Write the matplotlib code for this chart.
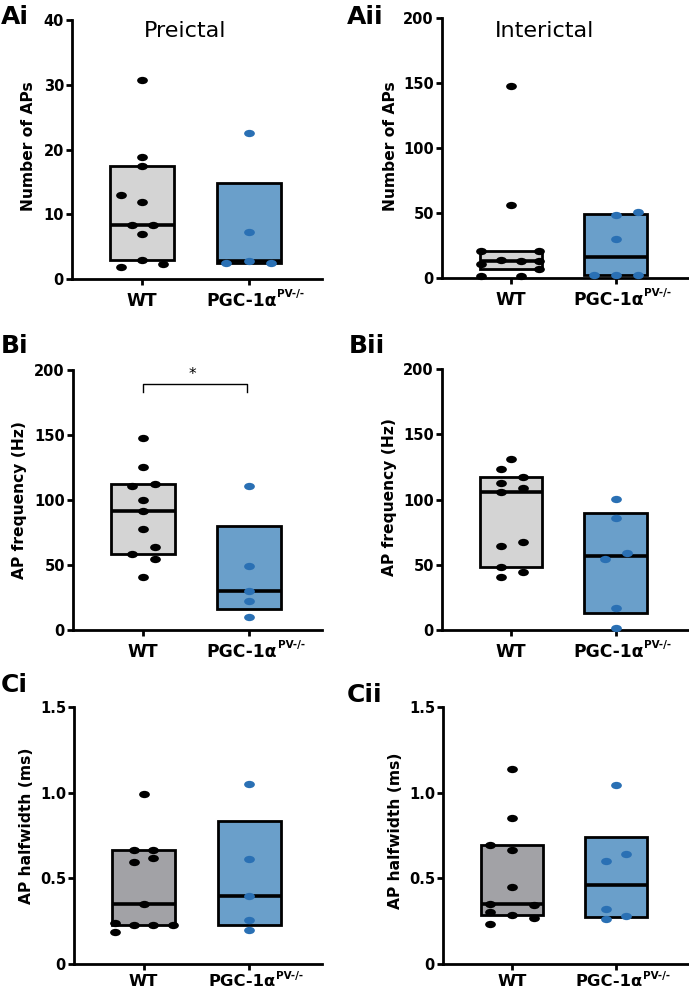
import numpy as np
import matplotlib
matplotlib.use("Agg")
import matplotlib.pyplot as plt
import matplotlib.transforms as mtrans
from matplotlib.path import Path

plt.rcParams['font.family'] = ['DejaVu Sans']

# ---------------- data ----------------
groups = ["WT", "PGC-1α"]
group_sup = "PV-/-"

# Ai  Preictal, Number of APs
ai_wt = [30.7, 18.9, 17.5, 13.0, 11.9, 8.4, 8.4, 6.9, 2.9, 1.9, 2.3]
ai_wt_spread = [0, 0, 0, -0.2, 0, -0.1, 0.1, 0, 0, -0.2, 0.2]
ai_ko = [22.5, 7.2, 2.8, 2.4, 2.4]
ai_ko_spread = [0, 0, 0, -0.21, 0.21]

# Aii Interictal, Number of APs
aii_wt = [148, 56, 20.4, 20.4, 14.2, 12.7, 10.9, 12.7, 7.1, 1.4, 1.4]
aii_wt_spread = [0, 0, -0.29, 0.27, -0.1, 0.09, -0.29, 0.27, 0.27, -0.29, 0.09]
aii_ko = [50.8, 48.2, 30.0, 2.5, 2.5, 2.5]
aii_ko_spread = [0.21, 0, 0, -0.21, 0, 0.21]

# Bi  Preictal, AP frequency (Hz)
bi_wt = [147.4, 125.6, 110.5, 112.3, 99.7, 91.5, 77.7, 64.1, 58.5, 54.4, 41.0]
bi_wt_spread = [0, 0, -0.1, 0.11, 0, 0, 0, 0.11, -0.1, 0.11, 0]
bi_ko = [110.8, 49.2, 30.3, 22.6, 10.3]
bi_ko_spread = [0, 0, 0, 0, 0]

# Bii Interictal, AP frequency (Hz)
bii_wt = [131.0, 123.5, 117.6, 112.8, 108.7, 106.1, 67.8, 64.7, 48.3, 44.8, 40.4]
bii_wt_spread = [0, -0.095, 0.115, -0.095, 0.115, -0.095, 0.115, -0.095, -0.095, 0.115, -0.095]
bii_ko = [100.5, 86.0, 59.1, 54.7, 17.0, 1.8]
bii_ko_spread = [0, 0, 0.105, -0.105, 0, 0]

# Ci  Preictal, AP halfwidth (ms)
ci_wt = [0.992, 0.667, 0.667, 0.593, 0.62, 0.353, 0.238, 0.225, 0.225, 0.225, 0.186]
ci_wt_spread = [0, -0.09, 0.09, -0.09, 0.09, 0, -0.27, -0.09, 0.09, 0.28, -0.27]
ci_ko = [1.052, 0.612, 0.399, 0.258, 0.200]
ci_ko_spread = [0, 0, 0, 0, 0]

# Cii Interictal, AP halfwidth (ms)
cii_wt = [1.14, 0.853, 0.694, 0.664, 0.449, 0.352, 0.344, 0.305, 0.288, 0.266, 0.231]
cii_wt_spread = [0, 0, -0.21, 0, 0, -0.21, 0.21, -0.21, 0, 0.21, -0.21]
cii_ko = [1.047, 0.641, 0.604, 0.323, 0.278, 0.260]
cii_ko_spread = [0, 0.1, -0.1, -0.1, 0.1, -0.1]

ticks_ap_pre = [0, 10, 20, 30, 40]
ticks_ap_inter = [0, 50, 100, 150, 200]
ticks_freq = [0, 50, 100, 150, 200]
ticks_hw = [0, 0.5, 1.0, 1.5]
ticklabels_hw = ["0", "0.5", "1.0", "1.5"]

sig_pair = (0, 0.98)
sig_y = 189
sig_leg = 183
sig_text = "*"

# ---------------- style ----------------
W, H = 689, 994
fig = plt.figure(figsize=(W / 100, H / 100), dpi=100)

light_gray = "#d4d4d4"
dark_gray = "#a2a2a6"
blue_box = "#6a9fca"
blue_dot = "#2a70b4"

ell = Path.unit_circle().transformed(mtrans.Affine2D().scale(1.0, 0.68))


def px_axes(l, t, r, b):
    return fig.add_axes([l / W, 1 - b / H, (r - l) / W, (b - t) / H])


def panel(ax, wt, wts, ko, kos, ticks, ticklabels, ylabel, wt_fill, label_x, label_y,
          xlab_pad=13, xlab_size=12.3):
    for xc, vals, spr, fill, dc in [(0, wt, wts, wt_fill, "black"),
                                    (1, ko, kos, blue_box, blue_dot)]:
        v = np.asarray(vals, float)
        q1, med, q3 = np.percentile(v, [25, 50, 75], method="weibull")
        ax.bar(xc, q3 - q1, bottom=q1, width=0.6, color=fill,
               edgecolor="black", linewidth=2.0, zorder=2)
        ax.hlines(med, xc - 0.3, xc + 0.3, color="black", lw=2.6, zorder=3)
        ax.scatter(xc + np.asarray(spr), v, marker=ell, s=60, color=dc,
                   linewidths=0, zorder=4, clip_on=False)
    ax.set_xlim(-0.66, 1.69)
    ax.set_ylim(ticks[0], ticks[-1])
    ax.set_yticks(ticks)
    ax.set_yticklabels(ticklabels, fontsize=10.5, fontweight="bold")
    ax.set_xticks([0, 1])
    ax.set_xticklabels(["", ""])
    for s in ["top", "right"]:
        ax.spines[s].set_visible(False)
    for s in ["left", "bottom"]:
        ax.spines[s].set_linewidth(2.0)
    ax.tick_params(axis="both", direction="out", length=4.3, width=2.0)
    ax.tick_params(axis="y", pad=1.5)
    ax.set_ylabel(ylabel, fontsize=11.2, fontweight="bold")
    ax.yaxis.set_label_coords(label_x, label_y)
    # category labels
    tr = mtrans.blended_transform_factory(ax.transData, ax.transAxes)
    ax.text(0, 0, groups[0],
            transform=tr + mtrans.ScaledTranslation(0, -xlab_pad / 100, fig.dpi_scale_trans),
            ha="center", va="top", fontsize=xlab_size, fontweight="bold")
    t = ax.text(1, 0, groups[1],
                transform=tr + mtrans.ScaledTranslation(-7 / 100, -xlab_pad / 100, fig.dpi_scale_trans),
                ha="center", va="top", fontsize=xlab_size, fontweight="bold")
    ax.annotate(group_sup, xy=(1, 1), xycoords=t, xytext=(0.3, 2.2),
                textcoords="offset points", ha="left", va="top",
                fontsize=7.5, fontweight="bold")


ax_ai = px_axes(72, 20, 322, 279)
panel(ax_ai, ai_wt, ai_wt_spread, ai_ko, ai_ko_spread, ticks_ap_pre,
      [str(t) for t in ticks_ap_pre], "Number of APs", light_gray, -0.145, 0.513)
ax_aii = px_axes(442, 18, 688, 278)
panel(ax_aii, aii_wt, aii_wt_spread, aii_ko, aii_ko_spread, ticks_ap_inter,
      [str(t) for t in ticks_ap_inter], "Number of APs", light_gray, -0.179, 0.508)
ax_bi = px_axes(73, 370, 322, 630)
panel(ax_bi, bi_wt, bi_wt_spread, bi_ko, bi_ko_spread, ticks_freq,
      [str(t) for t in ticks_freq], "AP frequency (Hz)", light_gray, -0.185, 0.5)
ax_bii = px_axes(442, 369, 688, 630)
panel(ax_bii, bii_wt, bii_wt_spread, bii_ko, bii_ko_spread, ticks_freq,
      [str(t) for t in ticks_freq], "AP frequency (Hz)", light_gray, -0.183, 0.51)
ax_ci = px_axes(74, 707, 322, 964)
panel(ax_ci, ci_wt, ci_wt_spread, ci_ko, ci_ko_spread, ticks_hw,
      ticklabels_hw, "AP halfwidth (ms)", dark_gray, -0.161, 0.539,
      xlab_pad=10, xlab_size=11.8)
ax_cii = px_axes(443, 707, 688, 964)
panel(ax_cii, cii_wt, cii_wt_spread, cii_ko, cii_ko_spread, ticks_hw,
      ticklabels_hw, "AP halfwidth (ms)", dark_gray, -0.163, 0.52,
      xlab_pad=10, xlab_size=11.8)

# significance bracket in Bi
x0, x1 = sig_pair
ax_bi.plot([x0, x0, x1, x1], [sig_leg, sig_y, sig_y, sig_leg], color="black", lw=1.0, zorder=5)
ax_bi.text(0.47, sig_y + 1.5, sig_text, ha="center", va="bottom", fontsize=11)

# titles
fig.text(185 / W, 1 - 36.7 / H, "Preictal", ha="center", va="baseline", fontsize=16)
fig.text(545 / W, 1 - 36.7 / H, "Interictal", ha="center", va="baseline", fontsize=16)

# panel labels
for lab, x, y in [("Ai", 0.5, 24), ("Aii", 347, 24), ("Bi", 1, 353), ("Bii", 349, 353),
                  ("Ci", 1, 692), ("Cii", 347, 702)]:
    fig.text(x / W, 1 - y / H, lab, ha="left", va="baseline", fontsize=18, fontweight="bold")

fig.savefig("out.png", dpi=100)
